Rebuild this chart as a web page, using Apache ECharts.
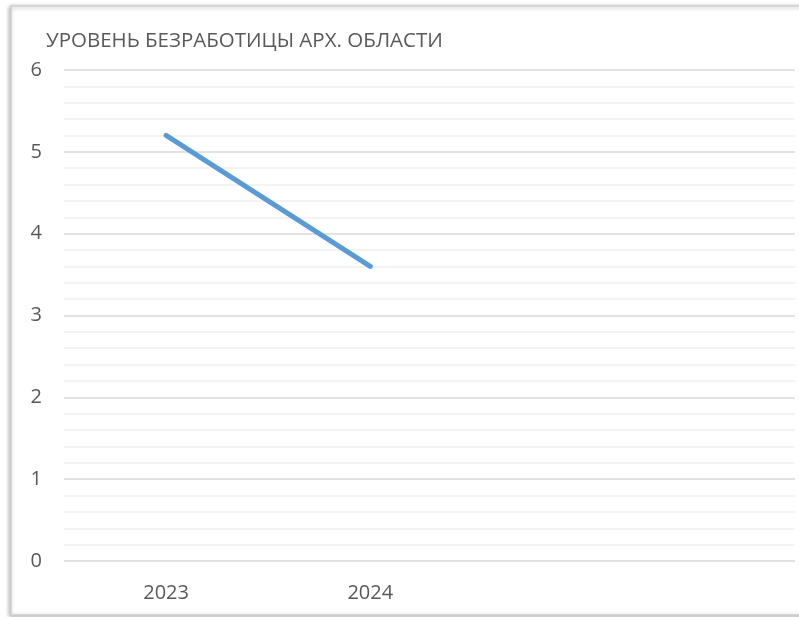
<!DOCTYPE html>
<html><head><meta charset="utf-8">
<script src="https://cdn.jsdelivr.net/npm/echarts@6/dist/echarts.min.js"></script>
<style>html,body{margin:0;padding:0;background:#fff}#c{width:799px;height:617px}</style>
</head><body><div id="c"></div>
<script>
const titleText = 'УРОВЕНЬ БЕЗРАБОТИЦЫ АРХ. ОБЛАСТИ';
const years = [2023, 2024];
const unemployment = [5.2, 3.6];
const yTicks = [0, 1, 2, 3, 4, 5, 6];

const chart = echarts.init(document.getElementById('c'), null, {renderer: 'canvas'});
const font = '"Open Sans", "Noto Sans", sans-serif';
chart.setOption({
  animation: false,
  backgroundColor: '#fff',
  graphic: [{
    type: 'rect', z: -10, silent: true,
    shape: {x: 11, y: 6, width: 820, height: 609},
    style: {fill: '#fff', stroke: '#D0D0D0', lineWidth: 1.5,
            shadowBlur: 4, shadowColor: 'rgba(0,0,0,0.3)', shadowOffsetX: -1, shadowOffsetY: 1}
  }],
  title: {
    text: titleText, left: 46, top: 31, padding: 0,
    textStyle: {fontFamily: font, fontSize: 20.5, fontWeight: 'normal', color: '#595959'}
  },
  grid: {left: 64, right: 4, top: 70, bottom: 56, containLabel: false},
  xAxis: {
    type: 'value', min: 2022.5, max: 2026.08,
    axisLine: {show: false}, axisTick: {show: false}, splitLine: {show: false},
    axisLabel: {customValues: years, formatter: v => String(v),
                fontFamily: font, fontSize: 20, color: '#595959', margin: 22}
  },
  yAxis: {
    type: 'value', min: yTicks[0], max: yTicks[yTicks.length - 1], interval: 1,
    axisLine: {show: false}, axisTick: {show: false},
    axisLabel: {fontFamily: font, fontSize: 20, color: '#595959', margin: 22},
    splitLine: {lineStyle: {color: '#D9D9D9', width: 1.5}},
    minorTick: {show: false, splitNumber: 5},
    minorSplitLine: {show: true, lineStyle: {color: '#F0F0F0', width: 1.5}}
  },
  series: [{
    type: 'line',
    data: years.map((y, i) => [y, unemployment[i]]),
    symbol: 'none',
    lineStyle: {color: '#5B9BD5', width: 5, cap: 'round'}
  }]
});
</script></body></html>
